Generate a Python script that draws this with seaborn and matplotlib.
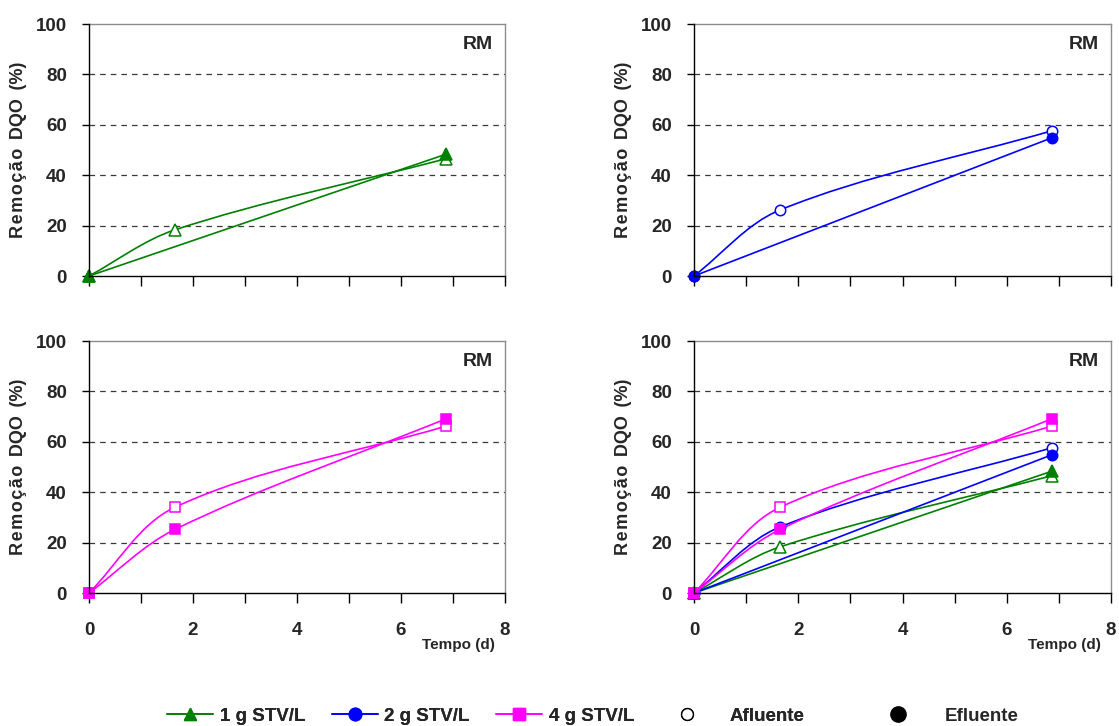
import numpy as np
import matplotlib
matplotlib.use("Agg")
import matplotlib.pyplot as plt
from matplotlib.path import Path
from matplotlib.patches import PathPatch
from matplotlib.lines import Line2D
import seaborn as sns

# Sampling times (days)
tempo = [0.0, 1.65, 6.86]

# COD removal (%) — influent (afluente) and effluent (efluente) for each load
afl_1g = [0.0, 18.3, 46.5]
efl_1g = [0.0, np.nan, 48.3]
afl_2g = [0.0, 26.2, 57.6]
efl_2g = [0.0, np.nan, 54.8]
afl_4g = [0.0, 34.0, 66.2]
efl_4g = [0.0, 25.2, 69.1]

series_labels = ["1 g STV/L", "2 g STV/L", "4 g STV/L"]
series_colors = ["#008000", "#0000FF", "#FF00FF"]
series_markers = ["^", "o", "s"]
afluente = [afl_1g, afl_2g, afl_4g]
efluente = [efl_1g, efl_2g, efl_4g]

y_ticks = [0, 20, 40, 60, 80, 100]
x_ticks = [0, 1, 2, 3, 4, 5, 6, 7, 8]
x_ticklabels = ["0", "", "2", "", "4", "", "6", "", "8"]
panel_tag = "RM"
y_label = "\u200a".join("Remoção") + "\u2009 DQO\u2009 (%)"
x_label = "Tempo (d)"

sns.set_style("white")
plt.rcParams["font.family"] = ["Liberation Sans", "DejaVu Sans"]
plt.rcParams["font.weight"] = "bold"


def smooth_path(ax, x, y):
    """Smoothed Bezier path through the valid points, built in display space
    with tangent handles scaled by the length of each segment."""
    pts = np.array([(a, b) for a, b in zip(x, y) if not np.isnan(b)], dtype=float)
    disp = ax.transData.transform(pts)
    n = len(disp)

    def unit(v):
        nv = np.hypot(*v)
        return v / nv if nv > 0 else v

    verts = [disp[0]]
    codes = [Path.MOVETO]
    for i in range(n - 1):
        p0, p1 = disp[i], disp[i + 1]
        seg = np.hypot(*(p1 - p0))
        t0 = unit(p1 - disp[max(i - 1, 0)])
        t1 = unit(disp[min(i + 2, n - 1)] - p0)
        c1 = p0 + t0 * seg / 3.0
        c2 = p1 - t1 * seg / 3.0
        verts += [c1, c2, p1]
        codes += [Path.CURVE4] * 3
    data_verts = ax.transData.inverted().transform(np.array(verts))
    return Path(data_verts, codes)


def draw_series(ax, idx):
    c = series_colors[idx]
    m = series_markers[idx]
    for vals, filled in ((afluente[idx], False), (efluente[idx], True)):
        ax.add_patch(PathPatch(smooth_path(ax, tempo, vals), facecolor="none",
                               edgecolor=c, linewidth=1.2, clip_on=False, zorder=3))
        sns.lineplot(x=tempo, y=vals, ax=ax, linestyle="", marker=m,
                     markersize=8.5 if m == "^" else 7.5,
                     markerfacecolor=c if filled else "white",
                     markeredgecolor=c, markeredgewidth=1.1,
                     color=c, clip_on=False, zorder=4, legend=False)


fig = plt.figure(figsize=(11.19, 7.26), dpi=100)
W, H = 1119.0, 726.0
lefts = [89, 694]
widths = [416, 417]
tops = [24, 341]
panels = [[0], [1], [2], [0, 1, 2]]

for k, series in enumerate(panels):
    row, col = divmod(k, 2)
    l = lefts[col]
    t = tops[row]
    ax = fig.add_axes([l / W, 1 - (t + 252) / H, widths[col] / W, 252 / H])
    ax.set_xlim(0, 8)
    ax.set_ylim(0, 100)
    for yv in y_ticks[1:-1]:
        ax.axhline(yv, color="#3a3a3a", linewidth=0.9, linestyle=(0, (4.5, 4)), zorder=1)
    for idx in series:
        draw_series(ax, idx)

    ax.spines["left"].set_color("black")
    ax.spines["bottom"].set_color("black")
    ax.spines["top"].set_color("#8c8c8c")
    ax.spines["right"].set_color("#8c8c8c")
    for s in ax.spines.values():
        s.set_linewidth(1.0)
    ax.spines["left"].set_zorder(5)
    ax.spines["bottom"].set_zorder(5)

    ax.set_yticks(y_ticks)
    ax.set_yticklabels([str(v) for v in y_ticks], fontweight="bold", fontsize=13.5)
    ax.set_xticks(x_ticks)
    if row == 1:
        ax.set_xticklabels(x_ticklabels, fontweight="bold", fontsize=13.5)
        ax.text(0.889, -0.206, x_label, transform=ax.transAxes, ha="center", va="center",
                fontweight="bold", fontsize=11)
    else:
        ax.set_xticklabels([""] * len(x_ticks))
    ax.tick_params(axis="x", direction="out", length=7, width=1, color="black", pad=14,
                   bottom=True)
    ax.tick_params(axis="y", direction="out", length=5, width=1, color="black", pad=11,
                   left=True)
    ax.set_ylabel(y_label, fontweight="bold", fontsize=13, labelpad=6)
    ax.text(0.935, 0.92, panel_tag, transform=ax.transAxes, ha="center", va="center",
            fontweight="bold", fontsize=14)
    ax.set_xlabel("")

legend_font = {"weight": "bold", "size": 13.5}
fs_px = 13.5 * 100 / 72.0
y_leg = 1 - 716 / H

series_handles = [Line2D([0], [0], color=c, marker=m, markersize=9, linewidth=1.2,
                         markerfacecolor=c, markeredgecolor=c)
                  for c, m in zip(series_colors, series_markers)]
leg1 = fig.legend(series_handles, series_labels, loc="center left",
                  bbox_to_anchor=(167 / W, y_leg), ncol=3, frameon=False,
                  borderpad=0, borderaxespad=0, handlelength=46 / fs_px,
                  handletextpad=7 / fs_px, columnspacing=26 / fs_px, prop=legend_font)
fig.add_artist(leg1)

afl_handle = Line2D([0], [0], linestyle="", marker="o", markersize=8.5,
                    markerfacecolor="white", markeredgecolor="black", markeredgewidth=1.0)
leg2 = fig.legend([afl_handle], ["Afluente"], loc="center left",
                  bbox_to_anchor=(664 / W, y_leg), frameon=False, borderpad=0,
                  borderaxespad=0, handlelength=46 / fs_px, handletextpad=20 / fs_px,
                  prop=legend_font)
fig.add_artist(leg2)

efl_handle = Line2D([0], [0], linestyle="", marker="o", markersize=11,
                    markerfacecolor="black", markeredgecolor="black")
fig.legend([efl_handle], ["Efluente"], loc="center left",
           bbox_to_anchor=(875 / W, y_leg), frameon=False, borderpad=0,
           borderaxespad=0, handlelength=46 / fs_px, handletextpad=24 / fs_px,
           prop=legend_font)

fig.savefig("out.png", dpi=100)
